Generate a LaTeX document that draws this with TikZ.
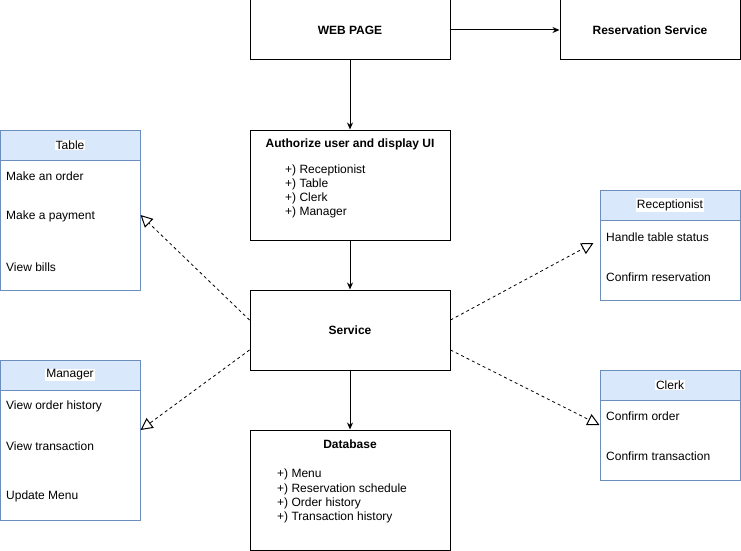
\documentclass[tikz,border=0pt]{standalone}
\usepackage{fontspec}
\setmainfont{Liberation Sans}
\usetikzlibrary{arrows.meta}
\definecolor{hdrfill}{HTML}{DAE8FC}
\definecolor{hdrline}{HTML}{6C8EBF}
\begin{document}
\begin{tikzpicture}[x=1pt,y=-1pt,
  font=\fontsize{12}{14}\selectfont,
  box/.style={draw=black, line width=1pt, inner sep=0pt},
  listbox/.style={draw=hdrline, line width=1pt, fill=white, inner sep=0pt, minimum width=140pt},
  header/.style={draw=hdrline, line width=1pt, fill=hdrfill, inner sep=0pt, minimum width=140pt, minimum height=30pt},
  htext/.style={fill=white, inner sep=1pt, yshift=-1pt},
  item/.style={anchor=west, inner sep=0pt, yshift=-1pt},
  flow/.style={line width=1pt, -{Stealth[length=7pt,width=6pt]}},
  uses/.style={line width=0.8pt, dash pattern=on 3pt off 3pt, -{Triangle[open,length=12pt,width=12pt,line width=1pt]}}
]
\useasboundingbox (0,0) rectangle (741,551);

% central flow
\node[box, minimum width=200pt, minimum height=60pt] (web) at (350,30) {\textbf{WEB PAGE}};
\node[box, minimum width=180pt, minimum height=60pt] (res) at (650,30) {\textbf{Reservation Service}};
\node[box, minimum width=200pt, minimum height=110pt] (auth) at (350,185) {};
\node[item, anchor=center] (autht) at (350,143) {\textbf{Authorize user and display UI}};
\node[item] (a1) at (285,169) {+) Receptionist};
\node[item] (a2) at (285,183) {+) Table};
\node[item] (a3) at (285,197) {+) Clerk};
\node[item] (a4) at (285,211) {+) Manager};
\node[box, minimum width=200pt, minimum height=80pt] (svc) at (350,330) {\textbf{Service}};
\node[box, minimum width=200pt, minimum height=120pt] (db) at (350,490) {};
\node[item, anchor=center] (dbt) at (350,443) {\textbf{Database}};
\node[item] (d1) at (277,473) {+) Menu};
\node[item] (d2) at (277,488) {+) Reservation schedule};
\node[item] (d3) at (277,502) {+) Order history};
\node[item] (d4) at (277,516) {+) Transaction history};

% role boxes
\node[listbox, minimum height=160pt] (tbl) at (70,210) {};
\node[header] (tblh) at (70,145) {};
\node[htext] (tblht) at (70,144) {Table};
\node[item] (t1) at (6,175) {Make an order};
\node[item] (t2) at (6,215) {Make a payment};
\node[item] (t3) at (6,266) {View bills};

\node[listbox, minimum height=160pt] (mgr) at (70,440) {};
\node[header] (mgrh) at (70,375) {};
\node[htext] (mgrht) at (70,374) {Manager};
\node[item] (m1) at (6,405) {View order history};
\node[item] (m2) at (6,445) {View transaction};
\node[item] (m3) at (6,495) {Update Menu};

\node[listbox, minimum height=110pt] (rcp) at (670,245) {};
\node[header] (rcph) at (670,205) {};
\node[htext] (rcpht) at (670,204) {Receptionist};
\node[item] (r1) at (606,236) {Handle table status};
\node[item] (r2) at (606,276) {Confirm reservation};

\node[listbox, minimum height=110pt] (clk) at (670,425) {};
\node[header] (clkh) at (670,385) {};
\node[htext] (clkht) at (670,384) {Clerk};
\node[item] (c1) at (606,415) {Confirm order};
\node[item] (c2) at (606,455) {Confirm transaction};

% connectors
\draw[flow] (web.east) -- (res.west);
\draw[flow] (web.south) -- (auth.north);
\draw[flow] (auth.south) -- (svc.north);
\draw[flow] (svc.south) -- (db.north);
\draw[uses] ([yshift=10pt]svc.west) -- ([yshift=-5pt]tbl.east);
\draw[uses] ([yshift=-20pt]svc.west) -- ([yshift=10pt]mgr.east);
\draw[uses] ([yshift=10pt]svc.east) -- ([xshift=-6pt,yshift=2pt]rcp.west);
\draw[uses] ([yshift=-20pt]svc.east) -- (clk.west);
\end{tikzpicture}
\end{document}
